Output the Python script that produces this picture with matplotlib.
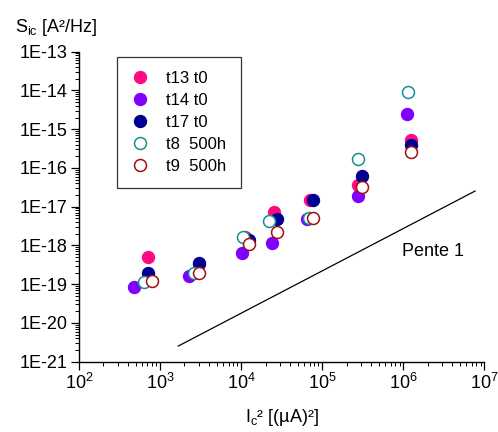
import matplotlib
matplotlib.use("Agg")
import matplotlib.pyplot as plt
from matplotlib.ticker import LogLocator, FixedLocator, FixedFormatter, LogFormatterMathtext, NullFormatter

plt.rcParams['font.family'] = ['Liberation Sans', 'DejaVu Sans']
plt.rcParams['mathtext.default'] = 'regular'

# Data
t13_x = [716, 3000, 11200, 25600, 71000, 279000, 1.24e6]
t13_y = [5.1e-19, 3.4e-19, 1.7e-18, 7.4e-18, 1.48e-17, 3.6e-17, 5.2e-16]
t14_x = [481, 2275, 10160, 23800, 65600, 279000, 1.10e6]
t14_y = [8.3e-20, 1.62e-19, 6.3e-19, 1.14e-18, 4.7e-18, 1.9e-17, 2.45e-15]
t17_x = [716, 3020, 12600, 27900, 76400, 307000, 1.24e6]
t17_y = [1.95e-19, 3.5e-19, 1.38e-18, 4.7e-18, 1.48e-17, 6.3e-17, 3.9e-16]
t8_x = [634, 2625, 10640, 22300, 69400, 279000, 1.135e6]
t8_y = [1.12e-19, 1.9e-19, 1.62e-18, 4.3e-18, 5.0e-18, 1.7e-16, 8.9e-15]
t9_x = [788, 3020, 12500, 27500, 76400, 307000, 1.24e6]
t9_y = [1.23e-19, 2.0e-19, 1.07e-18, 2.19e-18, 5.0e-18, 3.16e-17, 2.6e-16]

pente_x = [1680, 7.7e6]
pente_y = [2.54e-21, 2.54e-17]

ytick_vals = [1e-21, 1e-20, 1e-19, 1e-18, 1e-17, 1e-16, 1e-15, 1e-14, 1e-13]
ytick_labels = ['1E-21', '1E-20', '1E-19', '1E-18', '1E-17', '1E-16', '1E-15', '1E-14', '1E-13']

fig = plt.figure(figsize=(4.98, 4.32), dpi=100)
ax = fig.add_axes([0.1586, 0.1627, 0.8139, 0.7176])

ms = 8.6
ax.plot(t13_x, t13_y, 'o', ls='none', color='#FF0A80', mec='#FF0A80', ms=ms, label='t13 t0', zorder=3)
ax.plot(t14_x, t14_y, 'o', ls='none', color='#8000FF', mec='#8000FF', ms=ms, label='t14 t0', zorder=3)
ax.plot(t17_x, t17_y, 'o', ls='none', color='#000090', mec='#000090', ms=ms, label='t17 t0', zorder=4)
ax.plot(t8_x, t8_y, 'o', ls='none', mfc='white', mec='#139090', mew=1.1, ms=ms, label='t8  500h', zorder=5)
ax.plot(t9_x, t9_y, 'o', ls='none', mfc='white', mec='#A01010', mew=1.1, ms=ms, label='t9  500h', zorder=6)

ax.plot(pente_x, pente_y, color='black', lw=0.9, zorder=2)
ax.text(9.7e5, 6.8e-19, 'Pente 1', fontsize=13, ha='left', va='center')

ax.set_xscale('log')
ax.set_yscale('log')
ax.set_xlim(1e2, 1e7)
ax.set_ylim(1e-21, 1e-13)

ax.spines['top'].set_visible(False)
ax.spines['right'].set_visible(False)

ax.xaxis.set_major_locator(LogLocator(base=10, numticks=10))
ax.xaxis.set_major_formatter(LogFormatterMathtext())
ax.xaxis.set_minor_locator(LogLocator(base=10, subs=range(2, 10), numticks=20))
ax.xaxis.set_minor_formatter(NullFormatter())
ax.yaxis.set_major_locator(FixedLocator(ytick_vals))
ax.yaxis.set_major_formatter(FixedFormatter(ytick_labels))
ax.yaxis.set_minor_locator(LogLocator(base=10, subs=range(2, 10), numticks=20))
ax.yaxis.set_minor_formatter(NullFormatter())

ax.tick_params(which='major', direction='out', length=6, width=0.9, labelsize=13, pad=2)
ax.tick_params(which='minor', direction='out', length=3, width=0.7)
for s in ['left', 'bottom']:
    ax.spines[s].set_linewidth(1.0)

leg = ax.legend(loc='upper left', bbox_to_anchor=(0.0938, 0.983), frameon=True, fancybox=False,
                edgecolor='black', fontsize=12, handlelength=1.1, handletextpad=1.0,
                labelspacing=0.42, borderpad=0.85, borderaxespad=0, numpoints=1)
leg.get_frame().set_linewidth(0.9)

fig.text(15/498, 1 - 32/432, 'S$_{ic}$ [A²/Hz]', fontsize=13, ha='left', va='baseline')
fig.text(0.5655, 1 - 422/432, 'I$_{c}$² [(µA)²]', fontsize=13, ha='center', va='baseline')

fig.savefig('out.png', dpi=100)
